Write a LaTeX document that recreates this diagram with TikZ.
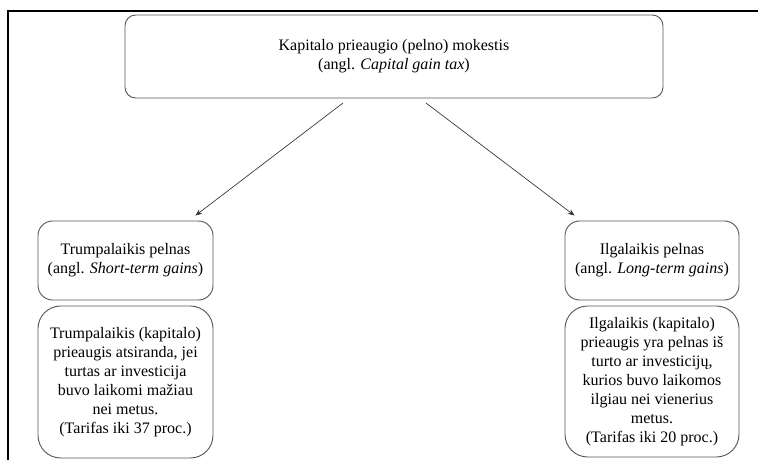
\documentclass[tikz,border=0pt]{standalone}
\usepackage{fontspec}
\setmainfont{Liberation Serif}
\usetikzlibrary{arrows.meta}
\tikzset{taxbox/.style={draw=black!65, line width=0.7pt, align=center, inner sep=0pt, font=\fontsize{12}{14.2}\selectfont},
         arr/.style={-{Stealth[length=5pt,width=4pt]}, draw=black!80, line width=0.5pt}}

\begin{document}
\begin{tikzpicture}[x=0.75pt,y=-0.75pt]
       \useasboundingbox (0,0) rectangle (758,460);
       % frame of the figure
       \draw[line width=1.5pt] (8,475) -- (8,11) -- (775,11);
       % main box
       \node[taxbox, rounded corners=8pt, minimum width=403.5pt, minimum height=62.25pt] (tax) at (394,56.5)
            {Kapitalo prieaugio (pelno) mokestis\\(angl. \textit{Capital gain tax})};
       % short-term
       \node[taxbox, rounded corners=11pt, minimum width=131.25pt, minimum height=59.25pt] (short) at (125.5,260.5)
            {Trumpalaikis pelnas\\(angl. \textit{Short-term gains})};
       \node[taxbox, rounded corners=17pt, minimum width=131.25pt, minimum height=114pt] (shortTxt) at (125.5,382)
            {Trumpalaikis (kapitalo)\\prieaugis atsiranda, jei\\turtas ar investicija\\buvo laikomi mažiau\\nei metus.\\(Tarifas iki 37 proc.)};
       % long-term
       \node[taxbox, rounded corners=11pt, minimum width=130.5pt, minimum height=59.25pt] (long) at (652,260.5)
            {Ilgalaikis pelnas\\(angl. \textit{Long-term gains})};
       \node[taxbox, rounded corners=17pt, minimum width=130.5pt, minimum height=113.25pt] (longTxt) at (652,381.5)
            {Ilgalaikis (kapitalo)\\prieaugis yra pelnas iš\\turto ar investicijų,\\kurios buvo laikomos\\ilgiau nei vienerius\\metus.\\(Tarifas iki 20 proc.)};
       % arrows
       \coordinate (taxL) at (343,103);
       \coordinate (taxR) at (426,103);
       \coordinate (shortIn) at ([shift={(-18,-5)}]short.north east);
       \coordinate (longIn) at ([shift={(10,-5)}]long.north west);
       \draw[arr] (taxL) -- (shortIn);
       \draw[arr] (taxR) -- (longIn);
\end{tikzpicture}
\end{document}
